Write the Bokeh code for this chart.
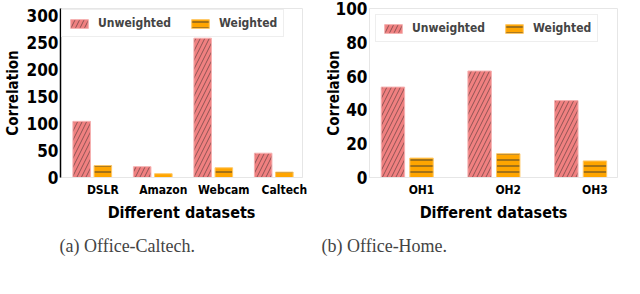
from bokeh.plotting import figure
from bokeh.models import Range1d, FixedTicker, Legend, LegendItem, Title
from bokeh.layouts import row
from bokeh.embed import file_html
from bokeh.resources import INLINE

# Data
cats_a = ["DSLR", "Amazon", "Webcam", "Caltech"]
unweighted_a = [104, 20, 258, 45]
weighted_a = [22, 7, 18, 10]

cats_b = ["OH1", "OH2", "OH3"]
unweighted_b = [53.5, 63, 45.5]
weighted_b = [11.5, 14, 9.8]

FONT = "DejaVu Sans Condensed"


def make(cats, unw, wgt, ymax, yticks, caption, cap_offset, width, left_border,
         right_border, dark_spine, x_start, x_end, legend_margin, ylab_standoff,
         bar_w, off):
    n = len(cats)
    xs_u = list(range(n))
    xs_w = [i + off for i in range(n)]
    p = figure(width=width, height=264, output_backend="svg",
               toolbar_location=None, min_border_top=8, min_border_left=left_border,
               min_border_right=right_border, min_border_bottom=10,
               x_range=Range1d(x_start, x_end), y_range=Range1d(0, ymax))
    r1 = p.vbar(x=xs_u, top=unw, width=bar_w, fill_color="#F08080", line_color="#f6b0b0",
                line_width=1, hatch_pattern="/", hatch_color="#222222", hatch_alpha=0.8,
                hatch_scale=9, hatch_weight=0.6)
    r2 = p.vbar(x=xs_w, top=wgt, width=bar_w, fill_color="#FFA500", line_color="#ffc866",
                line_width=1, hatch_pattern="-", hatch_color="#333333", hatch_alpha=0.9,
                hatch_scale=6, hatch_weight=1)
    p.xgrid.visible = False
    p.ygrid.visible = False
    p.outline_line_color = "#e6e6e6"
    p.xaxis.ticker = FixedTicker(ticks=xs_w)
    p.xaxis.major_label_overrides = {x: c for x, c in zip(xs_w, cats)}
    p.yaxis.ticker = FixedTicker(ticks=yticks)
    for ax in (p.xaxis, p.yaxis):
        ax.major_tick_line_color = None
        ax.minor_tick_line_color = None
        ax.major_tick_out = 0
        ax.major_label_text_font = FONT
        ax.major_label_text_font_style = "bold"
        ax.axis_label_text_font = FONT
        ax.axis_label_text_font_style = "bold"
        ax.axis_label_text_color = "black"
        ax.major_label_text_color = "black"
    p.xaxis.axis_line_color = "#e6e6e6"
    p.yaxis.axis_line_color = "black" if dark_spine else None
    p.yaxis.axis_line_width = 1.5
    p.xaxis.major_label_text_font_size = "12px"
    p.yaxis.major_label_text_font_size = "17px"
    p.xaxis.major_label_standoff = 5
    p.yaxis.major_label_standoff = 2
    p.xaxis.axis_label = "Different datasets"
    p.yaxis.axis_label = "Correlation"
    p.xaxis.axis_label_text_font_size = "16px"
    p.yaxis.axis_label_text_font_size = "15px"
    p.xaxis.axis_label_standoff = 3
    p.yaxis.axis_label_standoff = ylab_standoff
    legend = Legend(items=[LegendItem(label="Unweighted", renderers=[r1]),
                           LegendItem(label="Weighted", renderers=[r2])],
                    orientation="horizontal", location="top_left",
                    label_text_font=FONT, label_text_font_style="bold",
                    label_text_font_size="12px", border_line_color="#dddddd",
                    background_fill_alpha=0.8, glyph_width=22, glyph_height=11,
                    spacing=18, padding=6, margin=legend_margin, label_standoff=8)
    p.add_layout(legend)
    cap = Title(text=caption, align="left", offset=cap_offset, text_font="Liberation Serif",
                text_font_style="normal", text_font_size="18px", standoff=18)
    p.add_layout(cap, "below")
    return p


p1 = make(cats_a, unweighted_a, weighted_a, 313, [0, 50, 100, 150, 200, 250, 300],
          "(a) Office-Caltech.", -1, 310, 55, 8, True, -0.35, 3.65, 1, 2, 0.29, 0.35)
p2 = make(cats_b, unweighted_b, weighted_b, 100, [0, 20, 40, 60, 80, 100],
          "(b) Office-Home.", -48, 314, 59, 7, False, -0.27, 2.59, 6, -10, 0.27, 0.33)

layout = row(p1, p2)
open("out.html", "w").write(file_html(layout, INLINE))
